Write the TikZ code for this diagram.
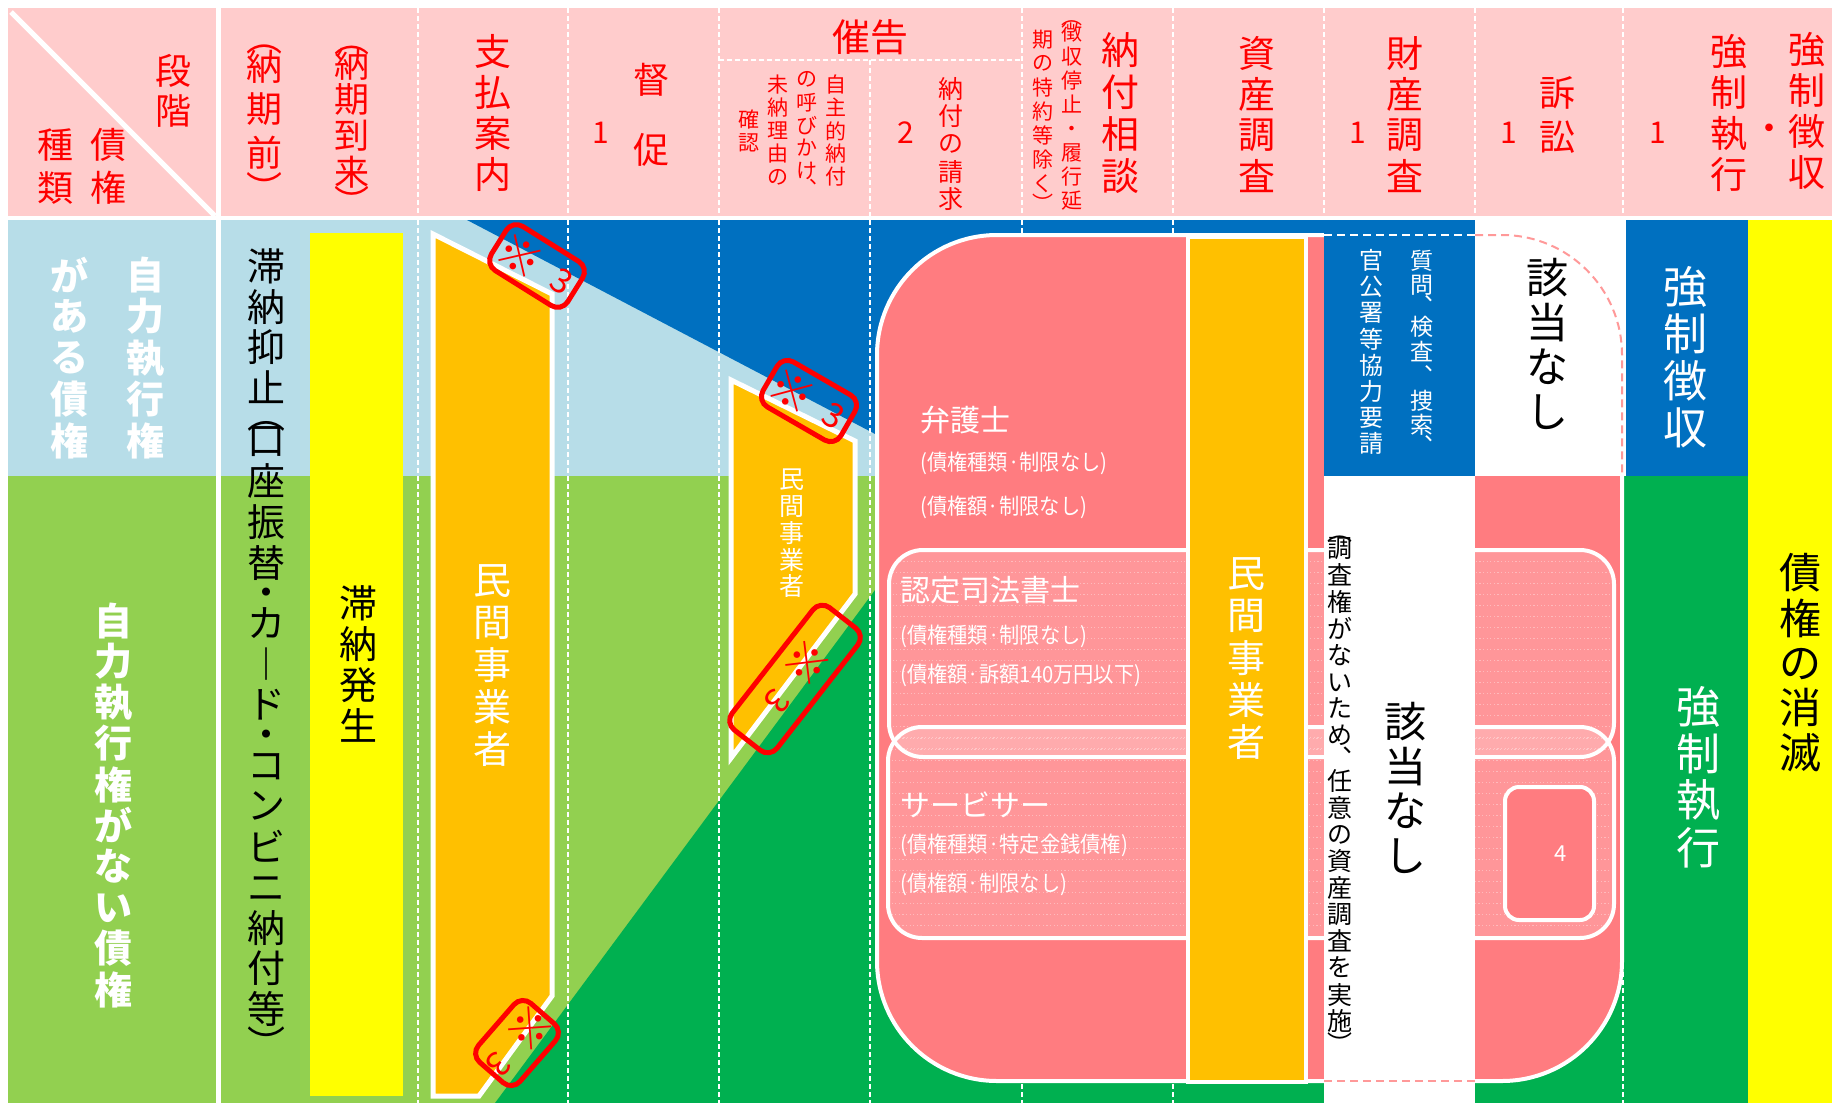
\documentclass[tikz,border=0pt]{standalone}
\usepackage{fontspec}
\usepackage{graphicx}
\setmainfont{Noto Sans CJK JP}

\definecolor{hdpink}{HTML}{FFCCCC}
\definecolor{ltblue}{HTML}{B7DDE8}
\definecolor{dkblue}{HTML}{0070C0}
\definecolor{ltgreen}{HTML}{92D050}
\definecolor{dkgreen}{HTML}{00B050}
\definecolor{ylw}{HTML}{FFFF00}
\definecolor{orng}{HTML}{FFC000}
\definecolor{salmon}{HTML}{FF7C80}
\definecolor{hdred}{HTML}{FF0000}
\definecolor{pdash}{HTML}{FF9999}

\makeatletter
\newdimen\vs@p
\def\vsH{}\def\vsQ{}\def\vsT{}
\def\vs@mh{\vsH}\def\vs@mq{\vsQ}\def\vs@mt{\vsT}
\newcommand\vstack[2]{%
  \vs@p=#1\relax
  \vbox{\offinterlineskip\def\vs@f{1}%
    \@tfor\vs@c:=#2\do{%
      \ifx\vs@c\vs@mh \def\vs@f{0.5}%
      \else\ifx\vs@c\vs@mq \def\vs@f{0.3}%
      \else\ifx\vs@c\vs@mt \def\vs@f{0.7}%
      \else
        \hbox to \vs@p{\hss\vbox to \vs@f\vs@p{\vss\hbox{\vphantom{国}\vs@c}\vss}\hss}%
        \def\vs@f{1}%
      \fi\fi\fi}}}
\makeatother
\newcommand\fs[1]{\fontsize{#1}{#1}\selectfont}
\newcommand\sm[1]{\fs{11}\scalebox{0.92}[1]{#1}}
\newcommand\kome{\vstack{18.5pt}{{\scalebox{1.7}{※}}{\rotatebox{-90}{\scalebox{1.3}{3}}}}}

\tikzset{
  vt/.style={inner sep=0pt, anchor=center},
  hdr/.style={vt, text=hdred},
  colsep/.style={draw=white, line width=0.75pt, dash pattern=on 2.5pt off 1.5pt},
  chip/.style={draw=hdred, line width=2.5pt, rounded corners=6pt, inner sep=0pt, text=hdred},
  wb/.style={draw=white, line width=2pt},
  ptxt/.style={inner sep=0pt, anchor=west, text=white},
  texture/.style={white, opacity=0.35, line width=0.4pt, dash pattern=on 0.6pt off 1.2pt},
}

\begin{document}
\begin{tikzpicture}[x=0.5pt,y=-0.5pt]
\useasboundingbox (0,0) rectangle (1832,1103);
\fill[white] (0,0) rectangle (1832,1103);
% header background
\fill[hdpink] (8,8) rectangle (1832,216);
% body backgrounds
\fill[ltblue] (8,220) rectangle (1832,476);
\fill[ltgreen] (8,476) rectangle (1832,1103);
\fill[dkblue] (467,220) -- (1475,220) -- (1475,476) -- (878,476) -- (878,435.5) -- cycle;
\fill[dkgreen] (495,1103) -- (878,586) -- (878,476) -- (1748,476) -- (1748,1103) -- cycle;

% column separators
\foreach \xx in {418,568,719,1022,1173,1324,1475,1623}
  \draw[colsep] (\xx,8) -- (\xx,216);
\draw[colsep] (719,60) -- (1022,60);
\draw[colsep] (870,60) -- (870,216);
\foreach \xx in {418,568,719,870,1022,1173,1623}
  \draw[colsep] (\xx,220) -- (\xx,1103);

% yellow column
\fill[ylw] (310,233) rectangle (403,1096);

% orange shapes
\draw[wb, line width=2.5pt, fill=orng] (433,234) -- (552,294) -- (552,996) -- (479,1096) -- (433,1096) -- cycle;
\draw[wb, line width=2.5pt, fill=orng] (731,380) -- (855,441) -- (855,594) -- (731,758) -- cycle;

% big pink shape
\draw[wb, fill=salmon, rounded corners=60pt] (877,235) rectangle (1622,1081);
\draw[wb, fill=white, fill opacity=0.2, rounded corners=17pt] (889,550) rectangle (1614,757);
\draw[wb, fill=white, fill opacity=0.2, rounded corners=17pt] (888,727) rectangle (1614,938);
\begin{scope}
  \clip[rounded corners=17pt] (889,550) rectangle (1614,757);
  \foreach \yy in {561,572,...,757} \draw[texture] (889,\yy) -- (1614,\yy);
\end{scope}
\begin{scope}
  \clip[rounded corners=17pt] (888,727) rectangle (1614,938);
  \foreach \yy in {738,749,...,938} \draw[texture] (888,\yy) -- (1614,\yy);
\end{scope}
\draw[wb, fill=orng] (1188,237) rectangle (1306,1082);

% boxes of 財産調査 / 訴訟
\fill[dkblue] (1324,220) rectangle (1475,476);
\fill[white] (1324,476) rectangle (1475,1103);
\fill[white] (1475,218) rectangle (1626,476);
\draw[white, line width=1pt, dash pattern=on 4pt off 2.5pt] (1324,235) -- (1475,235);
\draw[pdash, line width=1pt, dash pattern=on 4pt off 2.5pt, rounded corners=60pt] (1475,235) -- (1622,235) -- (1622,476);
\draw[pdash, line width=1pt, dash pattern=on 4pt off 2.5pt] (1324,1081) -- (1475,1081);
\draw[wb, fill=salmon, rounded corners=7pt] (1505,787) rectangle (1594,920);

% right columns
\fill[dkblue] (1626,218) rectangle (1748,476);
\fill[ylw] (1748,218) rectangle (1832,1103);

% white separators
\draw[white, line width=2.5pt] (218.5,8) -- (218.5,1103);
\draw[white, line width=2pt] (8,218) -- (1832,218);
\draw[white, line width=2.5pt] (11,12) -- (215,216);

% header texts
\node[hdr] (hDankai) at (173,91) {\fs{18}\vstack{20pt}{段階}};
\node[hdr] (hShurui) at (56,166.5) {\fs{18}\vstack{21.5pt}{種類}};
\node[hdr] (hSaiken) at (108,166.5) {\fs{18}\vstack{21.5pt}{債権}};
\node[hdr] (hMae) at (264,118) {\fs{18}\vstack{21.5pt}{\vsQ︵納期前\vsT︶}};
\node[hdr] (hTourai) at (352,125) {\fs{17.5}\vstack{18pt}{\vsQ︵納期到来\vsT︶}};
\node[hdr] (hShiharai) at (493,113) {\fs{18.5}\vstack{20.5pt}{支払案内}};
\node[hdr] (hOneA) at (601,133) {\fs{15}1};
\node[hdr] (hTokusoku) at (651,115) {\fs{18}\vstack{35pt}{督促}};
\node[hdr] (hSaikoku) at (870,37) {\fs{19}催告};
\node[hdr] (hSubA) at (836,131) {\fs{10.5}\vstack{11.5pt}{自主的納付}};
\node[hdr] (hSubB) at (807,131) {\fs{10.5}\vstack{11.5pt}{の呼びかけ\vsH︑}};
\node[hdr] (hSubC) at (778,131) {\fs{10.5}\vstack{11.5pt}{未納理由の}};
\node[hdr] (hSubD) at (749,131) {\fs{10.5}\vstack{11.5pt}{確認}};
\node[hdr] (hTwo) at (906,133) {\fs{15}2};
\node[hdr] (hSeikyu) at (951,144) {\fs{12.5}\vstack{13.8pt}{納付の請求}};
\node[hdr, anchor=north] (hChoA) at (1072,13) {\fs{10.5}\vstack{12pt}{\vsQ︵徴収停止・履行延}};
\node[hdr, anchor=north] (hChoB) at (1043,27) {\fs{10.5}\vstack{12pt}{期の特約等除く\vsT︶}};
\node[hdr] (hSoudan) at (1120,113.5) {\fs{19}\vstack{21pt}{納付相談}};
\node[hdr] (hShisan) at (1257,115) {\fs{18.5}\vstack{20.5pt}{資産調査}};
\node[hdr] (hOneB) at (1358,133) {\fs{15}1};
\node[hdr] (hZaisan) at (1405,115) {\fs{18.5}\vstack{20.5pt}{財産調査}};
\node[hdr] (hOneC) at (1509,133) {\fs{15}1};
\node[hdr] (hSosho) at (1557,115) {\fs{18}\vstack{22.5pt}{訴訟}};
\node[hdr] (hOneD) at (1658,133) {\fs{15}1};
\node[hdr] (hShikko) at (1729,113) {\fs{18.5}\vstack{20.5pt}{強制執行}};
\node[hdr] (hDot) at (1769,133) {\fs{18}・};
\node[hdr] (hChoshu) at (1807,111) {\fs{18.5}\vstack{20.5pt}{強制徴収}};

% body texts
\node[vt, text=white] (bJirikiA) at (145,358) {\fs{19}\bfseries\vstack{20.7pt}{自力執行権}};
\node[vt, text=white] (bJirikiB) at (69,358) {\fs{19}\bfseries\vstack{20.7pt}{がある債権}};
\node[vt, text=white] (bJirikiC) at (113,805) {\fs{19}\bfseries\vstack{20.5pt}{自力執行権がない債権}};
\node[vt, text=black] (bTaino) at (266,652) {\fs{19}\vstack{20.3pt}{滞納抑止\vsQ︵口座振替\vsH・カ︱ド\vsH・コンビニ納付等\vsT︶}};
\node[vt, text=black] (bHassei) at (358,665) {\fs{19}\vstack{20.5pt}{滞納発生}};
\node[vt, text=white] (bMinA) at (492,665) {\fs{19}\vstack{21pt}{民間事業者}};
\node[vt, text=white] (bMinB) at (792,533) {\fs{12.5}\vstack{13.3pt}{民間事業者}};
\node[vt, text=white] (bMinC) at (1246,658) {\fs{19}\vstack{21pt}{民間事業者}};
\node[vt, text=white, anchor=north] (bShitsumon) at (1422,248) {\fs{11.5}\vstack{12.25pt}{質問\vsT︑検査︑捜索\vsT︑}};
\node[vt, text=white] (bKankosho) at (1371,352) {\fs{12}\vstack{13.1pt}{官公署等協力要請}};
\node[vt, text=black] (bGaitoA) at (1547,345) {\fs{21}\vstack{22.5pt}{該当なし}};
\node[vt, text=black] (bGaitoB) at (1405,789) {\fs{21}\vstack{22.5pt}{該当なし}};
\node[vt, text=black, anchor=north] (bChosa) at (1340,527) {\fs{12.5}\vstack{13.35pt}{\vsQ︵調査権がないため\vsT︑任意の資産調査を実施\vsT︶}};
\node[vt, text=white] (bKyoseiA) at (1685,357) {\fs{22}\vstack{23.5pt}{強制徴収}};
\node[vt, text=white] (bKyoseiB) at (1698,777) {\fs{22}\vstack{23.5pt}{強制執行}};
\node[vt, text=black] (bShometsu) at (1800,663) {\fs{21}\vstack{22.5pt}{債権の消滅}};
\node[vt, text=white] (bFour) at (1561,854) {\fs{11}4};

% texts in pink shape
\node[ptxt] (pBengo) at (920,420) {\fs{15}弁護士};
\node[ptxt] (pBengoA) at (920,463) {\sm{(債権種類·制限なし)}};
\node[ptxt] (pBengoB) at (920,507) {\sm{(債権額·制限なし)}};
\node[ptxt] (pShiho) at (900,590) {\fs{15}認定司法書士};
\node[ptxt] (pShihoA) at (900,636) {\sm{(債権種類·制限なし)}};
\node[ptxt] (pShihoB) at (900,675) {\sm{(債権額·訴額140万円以下)}};
\node[ptxt] (pServ) at (900,805) {\fs{15}サービサー};
\node[ptxt] (pServA) at (900,845) {\sm{(債権種類·特定金銭債権)}};
\node[ptxt] (pServB) at (900,884) {\sm{(債権額·制限なし)}};

% red chips
\node[chip, rotate=58, minimum width=26pt, minimum height=45pt] (chipA) at (537,266) {\fs{13}\kome};
\node[chip, rotate=60, minimum width=26pt, minimum height=45pt] (chipB) at (809,401) {\fs{13}\kome};
\node[chip, rotate=-38, minimum width=28.5pt, minimum height=77.5pt] (chipC) at (795,679) {\fs{13}\kome};
\node[chip, rotate=-41, minimum width=27.5pt, minimum height=39pt] (chipD) at (517,1043) {\fs{13}\kome};
\end{tikzpicture}
\end{document}
